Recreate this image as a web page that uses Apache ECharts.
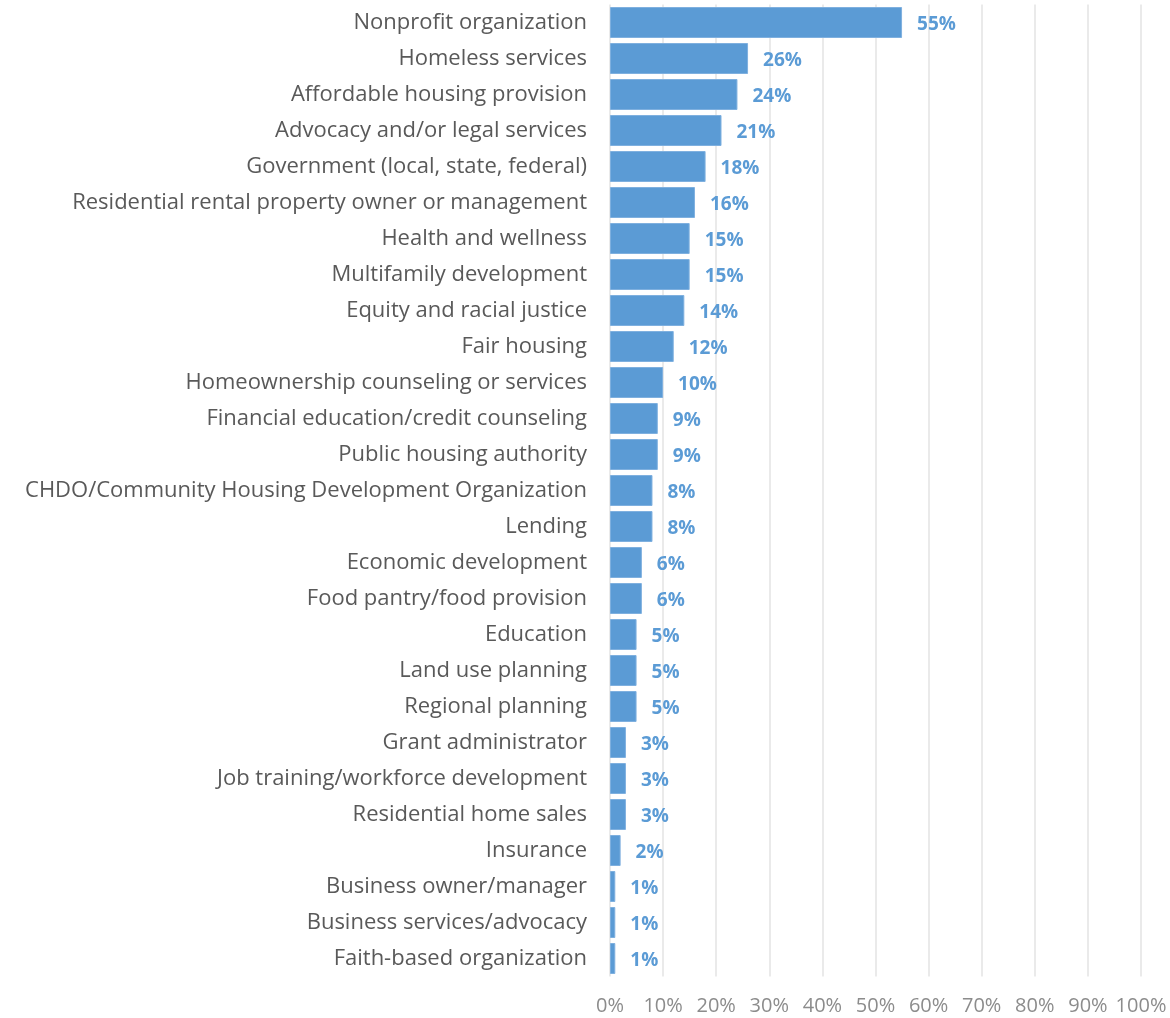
<!DOCTYPE html>
<html>
<head>
<meta charset="utf-8">
<script src="https://cdn.jsdelivr.net/npm/echarts@6/dist/echarts.min.js"></script>
<style>
html, body { margin: 0; padding: 0; background: #fff; }
#chart { width: 1170px; height: 1018px; }
</style>
</head>
<body>
<div id="chart"></div>
<script>
// Organization types, listed top to bottom
const categories = [
  'Nonprofit organization',
  'Homeless services',
  'Affordable housing provision',
  'Advocacy and/or legal services',
  'Government (local, state, federal)',
  'Residential rental property owner or management',
  'Health and wellness',
  'Multifamily development',
  'Equity and racial justice',
  'Fair housing',
  'Homeownership counseling or services',
  'Financial education/credit counseling',
  'Public housing authority',
  'CHDO/Community Housing Development Organization',
  'Lending',
  'Economic development',
  'Food pantry/food provision',
  'Education',
  'Land use planning',
  'Regional planning',
  'Grant administrator',
  'Job training/workforce development',
  'Residential home sales',
  'Insurance',
  'Business owner/manager',
  'Business services/advocacy',
  'Faith-based organization'
];

// Share of respondents (%)
const shares = [55, 26, 24, 21, 18, 16, 15, 15, 14, 12, 10, 9, 9, 8, 8, 6, 6, 5, 5, 5, 3, 3, 3, 2, 1, 1, 1];

// X axis ticks (%)
const xTicks = [0, 10, 20, 30, 40, 50, 60, 70, 80, 90, 100];

const font = "'Open Sans', 'Noto Sans', sans-serif";
const chart = echarts.init(document.getElementById('chart'), null, { renderer: 'canvas' });

chart.setOption({
  animation: false,
  backgroundColor: '#ffffff',
  grid: { left: 610, right: 29, top: 4.5, bottom: 41.5, containLabel: false },
  xAxis: {
    type: 'value',
    min: xTicks[0],
    max: xTicks[xTicks.length - 1],
    interval: xTicks[1] - xTicks[0],
    axisLine: { show: false },
    axisTick: { show: false },
    splitLine: { show: true, lineStyle: { color: '#e3e3e3', width: 1.5 } },
    axisLabel: {
      formatter: '{value}%',
      color: '#8c8c8c',
      fontFamily: font,
      fontSize: 20,
      margin: 20
    }
  },
  yAxis: {
    type: 'category',
    data: categories,
    inverse: true,
    axisLine: { show: false },
    axisTick: { show: false },
    splitLine: { show: false },
    axisLabel: {
      color: '#595959',
      fontFamily: font,
      fontSize: 22,
      margin: 23
    }
  },
  series: [{
    type: 'bar',
    data: shares,
    barWidth: 31,
    itemStyle: { color: '#5b9bd5', borderColor: '#7fb0df', borderWidth: 1 },
    label: {
      show: true,
      position: 'right',
      distance: 15,
      formatter: '{c}%',
      color: '#5b9bd5',
      fontFamily: font,
      fontWeight: 'bold',
      fontSize: 19,
      offset: [0, 2]
    }
  }]
});
</script>
</body>
</html>
